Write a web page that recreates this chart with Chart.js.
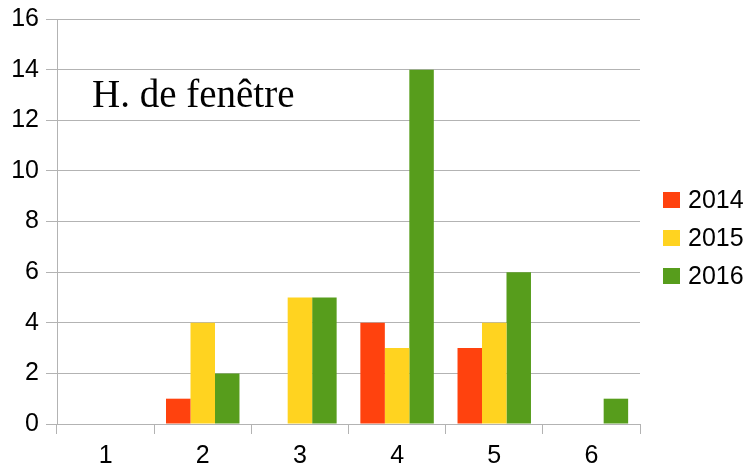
<!DOCTYPE html>
<html>
<head>
<meta charset="utf-8">
<script src="https://cdn.jsdelivr.net/npm/chart.js@4/dist/chart.umd.min.js"></script>
<style>
    html, body { margin: 0; padding: 0; background: #fff; }
    #wrap { width: 746px; height: 469px; }
</style>
</head>
<body>
<div id="wrap"><canvas id="mainChart"></canvas></div>
<script>
const categories = ["1", "2", "3", "4", "5", "6"];
const years = ["2014", "2015", "2016"];
const values2014 = [0, 1, 0, 4, 3, 0];
const values2015 = [0, 4, 5, 3, 4, 0];
const values2016 = [0, 2, 5, 14, 6, 1];
const colors = ["#ff420e", "#ffd320", "#579d1c"];
const titleText = "H. de fenêtre";

const gridColor = "#b3b3b3";
const labelFont = "25px 'Liberation Sans', Arial, sans-serif";

// titre dans la zone du graphique
const titlePlugin = {
    id: "insideTitle",
    afterDraw(chart) {
        const c = chart.ctx;
        c.save();
        c.font = "39px 'Liberation Serif', serif";
        c.fillStyle = "#000";
        c.textBaseline = "alphabetic";
        c.fillText(titleText, chart.chartArea.left + 35, 107);
        c.restore();
    },
};

// légende à droite, dessinée à partir des datasets
const sideLegend = {
    id: "sideLegend",
    afterDraw(chart) {
        const c = chart.ctx;
        const sets = chart.data.datasets;
        const x = chart.chartArea.right + 23;
        const step = 38;
        const y0 = 238 - step * (sets.length - 1) / 2;
        c.save();
        c.font = labelFont;
        c.textBaseline = "middle";
        sets.forEach((ds, i) => {
            const y = y0 + i * step;
            c.fillStyle = ds.backgroundColor;
            c.fillRect(x, y - 8, 17, 16);
            c.fillStyle = "#000";
            c.fillText(ds.label, x + 25, y + 1);
        });
        c.restore();
    },
};

const ctx = document.getElementById("mainChart").getContext("2d");
new Chart(ctx, {
    type: "bar",
    data: {
        labels: categories,
        datasets: [
            { label: years[0], data: values2014, backgroundColor: colors[0] },
            { label: years[1], data: values2015, backgroundColor: colors[1] },
            { label: years[2], data: values2016, backgroundColor: colors[2] },
        ],
    },
    options: {
        responsive: true,
        maintainAspectRatio: false,
        animation: false,
        layout: { padding: { top: 19, right: 106 } },
        datasets: {
            bar: { categoryPercentage: 0.756, barPercentage: 1.0 },
        },
        scales: {
            x: {
                grid: {
                    color: gridColor,
                    offset: true,
                    drawOnChartArea: false,
                    tickLength: 10,
                },
                border: { color: gridColor },
                ticks: {
                    color: "#000",
                    font: { family: "'Liberation Sans', Arial", size: 25 },
                    padding: 7,
                },
                afterFit(scale) {
                    scale.height = 45;
                    scale.paddingLeft = 0;
                    scale.paddingRight = 0;
                },
            },
            y: {
                min: 0,
                max: 16,
                grid: { color: gridColor, tickLength: 11 },
                border: { color: gridColor },
                ticks: {
                    stepSize: 2,
                    color: "#000",
                    font: { family: "'Liberation Sans', Arial", size: 25 },
                    padding: 7,
                },
                afterFit(scale) {
                    scale.width = 57;
                    scale.paddingTop = 0;
                    scale.paddingBottom = 0;
                },
            },
        },
        plugins: {
            legend: { display: false },
            tooltip: { enabled: false },
        },
    },
    plugins: [titlePlugin, sideLegend],
});
</script>
</body>
</html>
